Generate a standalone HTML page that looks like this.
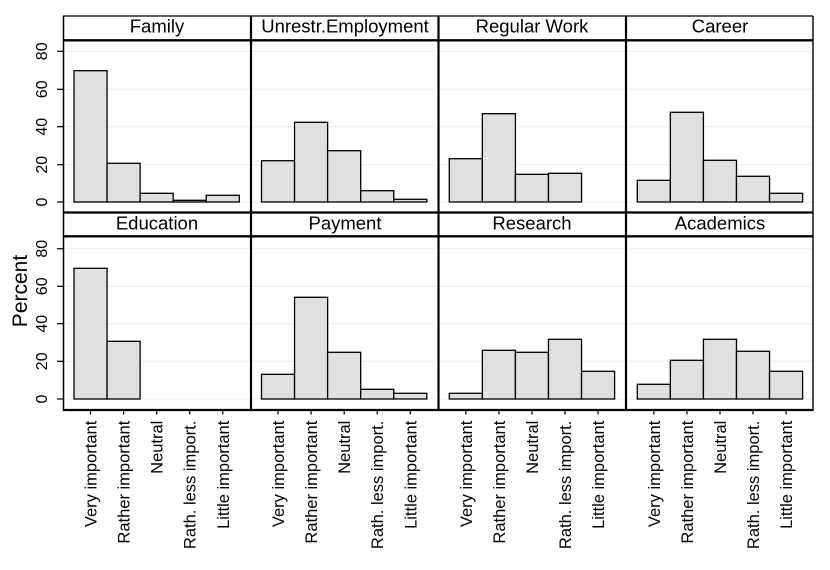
<!DOCTYPE html>
<html><head><meta charset="utf-8"><style>
html,body{margin:0;padding:0;background:#fff;}
svg{display:block;}
text{font-family:"Liberation Sans",Arial,sans-serif;fill:#000;}
</style></head><body>
<svg width="830" height="570" viewBox="0 0 830 570" xmlns="http://www.w3.org/2000/svg">
<rect width="830" height="570" fill="#fff"/>
<!-- gridlines -->
<g stroke="#ebebeb" stroke-width="1">
<line x1="63" x2="813" y1="51.3" y2="51.3"/>
<line x1="63" x2="813" y1="89.3" y2="89.3"/>
<line x1="63" x2="813" y1="126.7" y2="126.7"/>
<line x1="63" x2="813" y1="164.7" y2="164.7"/>
<line x1="63" x2="813" y1="202" y2="202"/>
<line x1="63" x2="813" y1="248.7" y2="248.7"/>
<line x1="63" x2="813" y1="286.3" y2="286.3"/>
<line x1="63" x2="813" y1="323.7" y2="323.7"/>
<line x1="63" x2="813" y1="361.3" y2="361.3"/>
<line x1="63" x2="813" y1="399" y2="399"/>
</g>
<!-- bars -->
<g fill="#e0e0e0" stroke="#000" stroke-width="1.3">
<!-- Family -->
<rect x="74" y="70.7" width="33.06" height="131.3"/>
<rect x="107.06" y="163.3" width="33.06" height="38.7"/>
<rect x="140.12" y="193.3" width="33.06" height="8.7"/>
<rect x="173.18" y="200.3" width="33.06" height="1.7"/>
<rect x="206.24" y="195.3" width="33.06" height="6.7"/>
<!-- Unrestr -->
<rect x="261.5" y="160.7" width="33.06" height="41.3"/>
<rect x="294.56" y="122.3" width="33.06" height="79.7"/>
<rect x="327.62" y="150.7" width="33.06" height="51.3"/>
<rect x="360.68" y="190.7" width="33.06" height="11.3"/>
<rect x="393.74" y="199.3" width="33.06" height="2.7"/>
<!-- Regular Work -->
<rect x="449.3" y="158.7" width="33.06" height="43.3"/>
<rect x="482.36" y="113.7" width="33.06" height="88.3"/>
<rect x="515.42" y="174.3" width="33.06" height="27.7"/>
<rect x="548.48" y="173.3" width="33.06" height="28.7"/>
<!-- Career -->
<rect x="637.3" y="180.3" width="33.06" height="21.7"/>
<rect x="670.36" y="112.3" width="33.06" height="89.7"/>
<rect x="703.42" y="160.3" width="33.06" height="41.7"/>
<rect x="736.48" y="176.3" width="33.06" height="25.7"/>
<rect x="769.54" y="193.3" width="33.06" height="8.7"/>
<!-- Education -->
<rect x="74" y="268.3" width="33.06" height="130.7"/>
<rect x="107.06" y="341.3" width="33.06" height="57.7"/>
<!-- Payment -->
<rect x="261.5" y="374.3" width="33.06" height="24.7"/>
<rect x="294.56" y="297.3" width="33.06" height="101.7"/>
<rect x="327.62" y="352.3" width="33.06" height="46.7"/>
<rect x="360.68" y="389.3" width="33.06" height="9.7"/>
<rect x="393.74" y="393.3" width="33.06" height="5.7"/>
<!-- Research -->
<rect x="449.3" y="393.3" width="33.06" height="5.7"/>
<rect x="482.36" y="350.3" width="33.06" height="48.7"/>
<rect x="515.42" y="352.3" width="33.06" height="46.7"/>
<rect x="548.48" y="339.3" width="33.06" height="59.7"/>
<rect x="581.54" y="371.3" width="33.06" height="27.7"/>
<!-- Academics -->
<rect x="637.3" y="384.3" width="33.06" height="14.7"/>
<rect x="670.36" y="360.3" width="33.06" height="38.7"/>
<rect x="703.42" y="339.3" width="33.06" height="59.7"/>
<rect x="736.48" y="351.3" width="33.06" height="47.7"/>
<rect x="769.54" y="371.3" width="33.06" height="27.7"/>
</g>
<!-- frame -->
<g stroke="#000" fill="none">
<line x1="63" y1="16" x2="813" y2="16" stroke-width="1.3"/>
<line x1="63.5" y1="16" x2="63.5" y2="411" stroke-width="1.5"/>
<line x1="813" y1="16" x2="813" y2="411" stroke-width="1.4"/>
<line x1="251" y1="16" x2="251" y2="411" stroke-width="2.2"/>
<line x1="438.5" y1="16" x2="438.5" y2="411" stroke-width="2.2"/>
<line x1="626" y1="16" x2="626" y2="411" stroke-width="2.2"/>
<line x1="63" y1="40.3" x2="813" y2="40.3" stroke-width="2.4"/>
<line x1="63" y1="212.5" x2="813" y2="212.5" stroke-width="2.2"/>
<line x1="63" y1="236.3" x2="813" y2="236.3" stroke-width="2.4"/>
<line x1="63" y1="410" x2="813" y2="410" stroke-width="2.2"/>
</g>
<!-- y ticks -->
<g stroke="#000" stroke-width="1.2">
<line x1="57" x2="63" y1="51.3" y2="51.3"/>
<line x1="57" x2="63" y1="89.3" y2="89.3"/>
<line x1="57" x2="63" y1="126.7" y2="126.7"/>
<line x1="57" x2="63" y1="164.7" y2="164.7"/>
<line x1="57" x2="63" y1="202" y2="202"/>
<line x1="57" x2="63" y1="248.7" y2="248.7"/>
<line x1="57" x2="63" y1="286.3" y2="286.3"/>
<line x1="57" x2="63" y1="323.7" y2="323.7"/>
<line x1="57" x2="63" y1="361.3" y2="361.3"/>
<line x1="57" x2="63" y1="399" y2="399"/>
</g>
<!-- y tick labels -->
<g font-size="16" text-anchor="middle">
<text transform="translate(47,51.3) rotate(-90)">80</text>
<text transform="translate(47,89.3) rotate(-90)">60</text>
<text transform="translate(47,126.7) rotate(-90)">40</text>
<text transform="translate(47,164.7) rotate(-90)">20</text>
<text transform="translate(47,202) rotate(-90)">0</text>
<text transform="translate(47,248.7) rotate(-90)">80</text>
<text transform="translate(47,286.3) rotate(-90)">60</text>
<text transform="translate(47,323.7) rotate(-90)">40</text>
<text transform="translate(47,361.3) rotate(-90)">20</text>
<text transform="translate(47,399) rotate(-90)">0</text>
</g>
<text font-size="21" text-anchor="middle" transform="translate(27,291) rotate(-90)">Percent</text>
<!-- strip labels -->
<g font-size="18.5" text-anchor="middle">
<text x="157" y="32.5">Family</text>
<text x="345" y="32.5">Unrestr.Employment</text>
<text x="532" y="32.5">Regular Work</text>
<text x="720" y="32.5">Career</text>
<text x="157" y="229.7">Education</text>
<text x="345" y="229.7">Payment</text>
<text x="532" y="229.7">Research</text>
<text x="720" y="229.7">Academics</text>
</g>
<!-- x ticks -->
<g stroke="#000" stroke-width="1.2">
<line x1="90.5" x2="90.5" y1="410" y2="414.5"/>
<line x1="123.6" x2="123.6" y1="410" y2="414.5"/>
<line x1="156.7" x2="156.7" y1="410" y2="414.5"/>
<line x1="189.7" x2="189.7" y1="410" y2="414.5"/>
<line x1="222.8" x2="222.8" y1="410" y2="414.5"/>
<line x1="278" x2="278" y1="410" y2="414.5"/>
<line x1="311.1" x2="311.1" y1="410" y2="414.5"/>
<line x1="344.2" x2="344.2" y1="410" y2="414.5"/>
<line x1="377.2" x2="377.2" y1="410" y2="414.5"/>
<line x1="410.3" x2="410.3" y1="410" y2="414.5"/>
<line x1="465.8" x2="465.8" y1="410" y2="414.5"/>
<line x1="498.9" x2="498.9" y1="410" y2="414.5"/>
<line x1="532" x2="532" y1="410" y2="414.5"/>
<line x1="565" x2="565" y1="410" y2="414.5"/>
<line x1="598.1" x2="598.1" y1="410" y2="414.5"/>
<line x1="653.8" x2="653.8" y1="410" y2="414.5"/>
<line x1="686.9" x2="686.9" y1="410" y2="414.5"/>
<line x1="720" x2="720" y1="410" y2="414.5"/>
<line x1="753" x2="753" y1="410" y2="414.5"/>
<line x1="786.1" x2="786.1" y1="410" y2="414.5"/>
</g>
<!-- x labels -->
<g font-size="16.5" text-anchor="end">
<text transform="translate(96.5,420.7) rotate(-90)">Very important</text>
<text transform="translate(129.6,420.7) rotate(-90)">Rather important</text>
<text transform="translate(162.7,420.7) rotate(-90)">Neutral</text>
<text transform="translate(195.7,420.7) rotate(-90)">Rath. less import.</text>
<text transform="translate(228.8,420.7) rotate(-90)">Little important</text>
<text transform="translate(284,420.7) rotate(-90)">Very important</text>
<text transform="translate(317.1,420.7) rotate(-90)">Rather important</text>
<text transform="translate(350.2,420.7) rotate(-90)">Neutral</text>
<text transform="translate(383.2,420.7) rotate(-90)">Rath. less import.</text>
<text transform="translate(416.3,420.7) rotate(-90)">Little important</text>
<text transform="translate(471.8,420.7) rotate(-90)">Very important</text>
<text transform="translate(504.9,420.7) rotate(-90)">Rather important</text>
<text transform="translate(538,420.7) rotate(-90)">Neutral</text>
<text transform="translate(571,420.7) rotate(-90)">Rath. less import.</text>
<text transform="translate(604.1,420.7) rotate(-90)">Little important</text>
<text transform="translate(659.8,420.7) rotate(-90)">Very important</text>
<text transform="translate(692.9,420.7) rotate(-90)">Rather important</text>
<text transform="translate(726,420.7) rotate(-90)">Neutral</text>
<text transform="translate(759,420.7) rotate(-90)">Rath. less import.</text>
<text transform="translate(792.1,420.7) rotate(-90)">Little important</text>
</g>
</svg>
</body></html>
